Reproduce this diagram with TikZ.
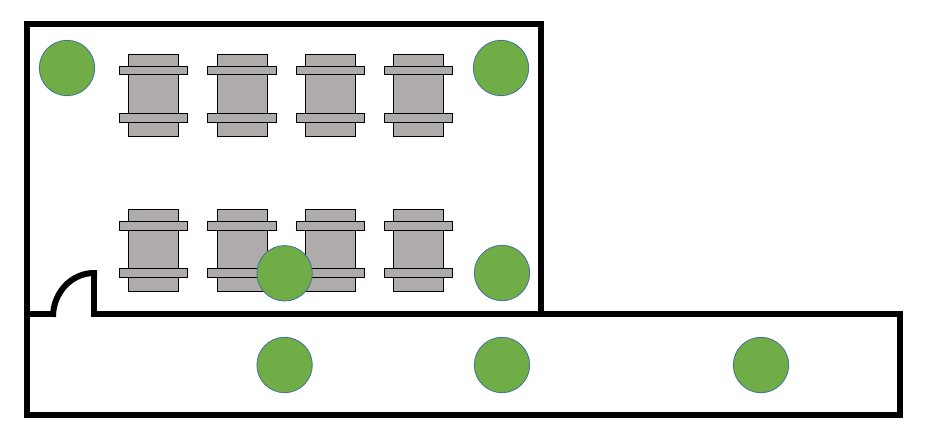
\documentclass[tikz,border=0pt]{standalone}
\definecolor{tablegray}{HTML}{AFABAB}
\definecolor{plantgreen}{HTML}{70AD47}
\definecolor{plantblue}{HTML}{41719C}
\tikzset{
  wall/.style={draw=black,line width=6pt},
  tablebody/.style={draw=black,fill=tablegray,line width=1pt},
  plant/.style={draw=plantblue,fill=plantgreen,line width=0.8pt},
}
\begin{document}
\begin{tikzpicture}[x=1pt,y=-1pt]
        \useasboundingbox (0,0) rectangle (927,444);

        % Draw the tables with their benches
        \foreach \tablex/\benchx/\benchw in {128.3/119.3/68.4,217.3/207.3/69.4,305.3/296.3/68,393.3/384.3/68} {
            \foreach \tabley in {54.3,209.3} {
                \draw[tablebody] (\tablex,\tabley) rectangle ++(50,82);
                \draw[tablebody] (\benchx,\tabley+12) rectangle ++(\benchw,8.7);
                \draw[tablebody] (\benchx,\tabley+59.5) rectangle ++(\benchw,9);
            }
        }

        % Draw the plants
        \foreach \plantx/\planty in {67/68,501/68,502/273,284.6/273.3,284.6/365,502/365,761/365} {
            \draw[plant] (\plantx,\planty) circle[radius=27.7];
        }

        % Draw the upper room
        \draw[wall] (53,314) -- (27,314) -- (27,24) -- (541,24) -- (541,314);

        % Draw the corridor
        \draw[wall] (27,314) -- (27,415) -- (900,415) -- (900,314) -- (91,314);

        % Draw the door
        \draw[wall] (94,317) -- (94,273);
        \draw[wall] (53,317) arc[start angle=180,end angle=90,x radius=41,y radius=-44] -- (97,273);
    \end{tikzpicture}
\end{document}
